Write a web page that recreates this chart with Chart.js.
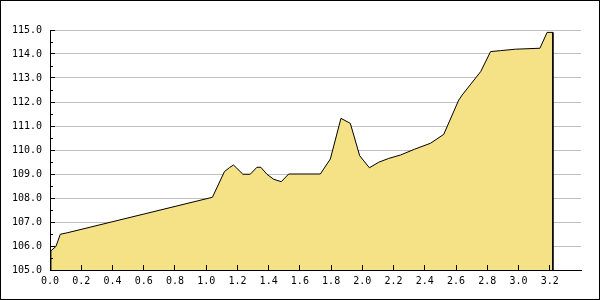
<!DOCTYPE html>
<html>
<head>
<meta charset="utf-8">
<script src="https://cdn.jsdelivr.net/npm/chart.js@4/dist/chart.umd.min.js"></script>
<style>
html,body{margin:0;padding:0;background:#fff;}
#wrap{position:relative;width:600px;height:300px;}
</style>
</head>
<body>
<div id="wrap"><canvas id="c" width="600" height="300"></canvas></div>
<script>
// Distance along the profile (km)
const distanceKm = [0, 0.006, 0.038, 0.066, 0.11, 1.04, 1.117, 1.15, 1.175, 1.235, 1.282, 1.325, 1.35, 1.389, 1.432, 1.481, 1.528, 1.731, 1.795, 1.863, 1.923, 1.983, 2.045, 2.105, 2.169, 2.244, 2.333, 2.436, 2.521, 2.617, 2.639, 2.758, 2.821, 2.885, 2.981, 3.137, 3.183, 3.22, 3.22];
// Elevation (m)
const elevationM = [105.0, 105.8, 105.98, 106.49, 106.55, 108.03, 109.1, 109.27, 109.375, 108.99, 108.99, 109.28, 109.28, 108.99, 108.78, 108.68, 109.0, 109.0, 109.625, 111.32, 111.11, 109.76, 109.26, 109.49, 109.65, 109.79, 110.03, 110.28, 110.65, 112.08, 112.29, 113.27, 114.1, 114.14, 114.2, 114.24, 114.9, 114.9, 105.0];

const xMin = 0, xMax = 3.4, xStep = 0.2, xLastLabel = 3.2;
const yMin = 105, yMax = 115, yStep = 1, yMinorStep = 0.5;

const points = distanceKm.map((d, i) => ({x: d, y: elevationM[i]}));

function align(p) { return Math.round(p - 0.5) + 0.5; }

const ticksAndFrame = {
  id: 'ticksAndFrame',
  afterDraw(chart) {
    const {ctx, chartArea: a, scales: {x, y}} = chart;
    ctx.save();
    ctx.strokeStyle = '#000';
    ctx.lineWidth = 1;
    ctx.beginPath();
    // y ticks, major and minor, drawn inward
    for (let v = yMin; v <= yMax + 1e-9; v += yMinorStep) {
      const py = align(y.getPixelForValue(v));
      const isMajor = Math.abs(v - Math.round(v)) < 1e-6;
      if (Math.abs(v - yMin) < 1e-6) continue;
      const len = isMajor ? 5 : 3;
      ctx.moveTo(a.left, py);
      ctx.lineTo(a.left + len, py);
    }
    // x ticks drawn inward
    for (let i = 1; ; i++) {
      const v = i * xStep;
      if (v > xLastLabel + 1e-6) break;
      const px = align(x.getPixelForValue(v));
      ctx.moveTo(px, a.bottom);
      ctx.lineTo(px, a.bottom - 5);
    }
    ctx.stroke();
    // outer frame
    ctx.strokeRect(0.5, 0.5, chart.width - 1, chart.height - 1);
    ctx.restore();
  }
};

new Chart(document.getElementById('c'), {
  type: 'line',
  data: {
    datasets: [{
      data: points,
      borderColor: '#000',
      borderWidth: 1,
      backgroundColor: '#F6E286',
      fill: 'start',
      tension: 0,
      pointRadius: 0,
      pointHoverRadius: 0
    }]
  },
  options: {
    responsive: false,
    animation: false,
    devicePixelRatio: 1,
    layout: {padding: {top: 30, right: 19, left: 0, bottom: 0}},
    plugins: {legend: {display: false}, tooltip: {enabled: false}},
    scales: {
      x: {
        type: 'linear',
        min: xMin, max: xMax,
        afterFit(s) { s.height = 30; },
        grid: {drawOnChartArea: false, drawTicks: false},
        border: {display: true, color: '#000', width: 1, z: 1},
        ticks: {
          stepSize: xStep,
          padding: 5,
          color: '#000',
          maxRotation: 0,
          autoSkip: false,
          font: {family: 'DejaVu Sans Mono', size: 10},
          callback: (v) => v > xLastLabel + 1e-6 ? '' : Number(v).toFixed(1)
        }
      },
      y: {
        min: yMin, max: yMax,
        afterFit(s) { s.width = 50; },
        grid: {color: '#c0c0c0', lineWidth: 1, drawTicks: false},
        border: {display: true, color: '#000', width: 1, z: 1},
        ticks: {
          stepSize: yStep,
          padding: 8,
          color: '#000',
          font: {family: 'DejaVu Sans Mono', size: 10},
          callback: (v) => Number(v).toFixed(1)
        }
      }
    }
  },
  plugins: [ticksAndFrame]
});
</script>
</body>
</html>
